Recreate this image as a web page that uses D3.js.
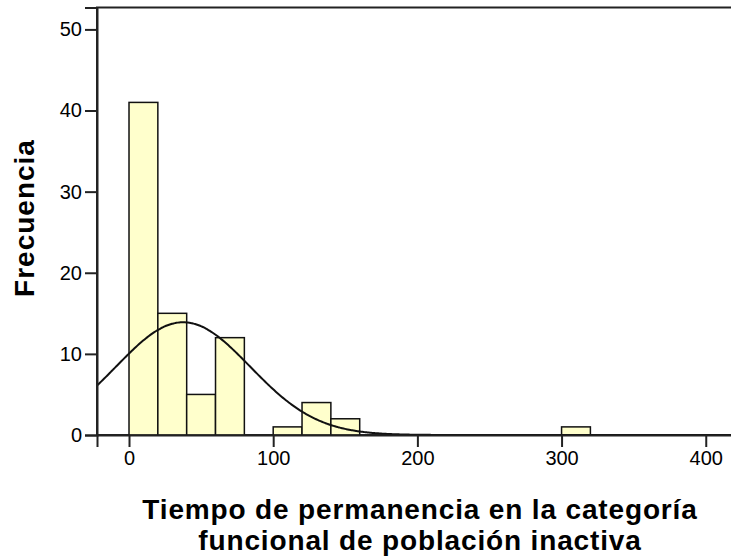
<!DOCTYPE html>
<html>
<head>
<meta charset="utf-8">
<script src="https://cdn.jsdelivr.net/npm/d3@7"></script>
<style>
  html, body { margin: 0; padding: 0; background: #fff; }
  svg { display: block; }
  text { font-family: "Liberation Sans", Arial, sans-serif; fill: #000; }
</style>
</head>
<body>
<svg id="chart" width="731" height="558"></svg>
<script>
// Histogram bins (lower edge of each 20-unit bin) and their frequencies
const binLower = [0, 20, 40, 60, 100, 120, 140, 300];
const binCounts = [41, 15, 5, 12, 1, 4, 2, 1];
const binWidth = 20;

// Normal curve parameters for the overlay
const curveMean = 37.5;
const curveSd = 46.5;
const sampleSize = 81;

// Tick labels
const xTicks = [0, 100, 200, 300, 400];
const yTicks = [0, 10, 20, 30, 40, 50];

const xTitleLines = ["Tiempo de permanencia en la categoría", "funcional de población inactiva"];
const yTitle = "Frecuencia";

const svg = d3.select("#chart");

const plot = { left: 97, right: 733, top: 7.5, bottom: 435 };

const x = d3.scaleLinear().domain([-22.2, 418.9]).range([plot.left, plot.right]);
const y = d3.scaleLinear().domain([0, 52.7]).range([plot.bottom, plot.top]);

// Plot frame
svg.append("rect")
  .attr("x", plot.left).attr("y", plot.top)
  .attr("width", plot.right - plot.left).attr("height", plot.bottom - plot.top)
  .attr("fill", "none").attr("stroke", "#222").attr("stroke-width", 2);

// Bars
const bins = binLower.map((b, i) => ({ x0: b, x1: b + binWidth, count: binCounts[i] }));
svg.append("g").selectAll("rect")
  .data(bins)
  .join("rect")
  .attr("x", d => x(d.x0))
  .attr("y", d => y(d.count))
  .attr("width", d => x(d.x1) - x(d.x0))
  .attr("height", d => y(0) - y(d.count))
  .attr("fill", "#ffffcc")
  .attr("stroke", "#111")
  .attr("stroke-width", 1.5);

// Fitted normal curve, scaled to frequency per bin
const curvePts = d3.range(x.domain()[0], x.domain()[1], 1).map(v => {
  const z = (v - curveMean) / curveSd;
  return [v, sampleSize * binWidth * Math.exp(-0.5 * z * z) / (curveSd * Math.sqrt(2 * Math.PI))];
});
svg.append("clipPath").attr("id", "plotClip")
  .append("rect").attr("x", plot.left).attr("y", plot.top)
  .attr("width", plot.right - plot.left).attr("height", plot.bottom - plot.top);
svg.append("path")
  .datum(curvePts)
  .attr("clip-path", "url(#plotClip)")
  .attr("fill", "none")
  .attr("stroke", "#111")
  .attr("stroke-width", 2)
  .attr("d", d3.line().x(d => x(d[0])).y(d => y(d[1])).curve(d3.curveBasis));

// Axes
const xAxis = svg.append("g")
  .attr("transform", `translate(0,${plot.bottom})`)
  .call(d3.axisBottom(x).tickValues(xTicks).tickSize(12).tickPadding(4).tickFormat(d3.format("d")));
const yAxis = svg.append("g")
  .attr("transform", `translate(${plot.left},0)`)
  .call(d3.axisLeft(y).tickValues(yTicks).tickSize(12).tickPadding(3).tickFormat(d3.format("d")));

[xAxis, yAxis].forEach(g => {
  g.select(".domain").attr("stroke", "#222").attr("stroke-width", 2);
  g.selectAll(".tick line").attr("stroke", "#222").attr("stroke-width", 2);
  g.selectAll(".tick text")
    .attr("font-size", 20)
    .attr("font-family", "'Liberation Sans', Arial, sans-serif")
    .attr("fill", "#222");
});

// Axis titles
svg.append("text")
  .attr("transform", `translate(34,218) rotate(-90)`)
  .attr("text-anchor", "middle")
  .attr("font-size", 28)
  .attr("font-weight", "bold")
  .attr("letter-spacing", 1)
  .text(yTitle);

svg.append("g").selectAll("text")
  .data(xTitleLines)
  .join("text")
  .attr("x", 420)
  .attr("y", (d, i) => 519 + i * 30.5)
  .attr("text-anchor", "middle")
  .attr("font-size", 28)
  .attr("font-weight", "bold")
  .attr("letter-spacing", 0.85)
  .text(d => d);
</script>
</body>
</html>
